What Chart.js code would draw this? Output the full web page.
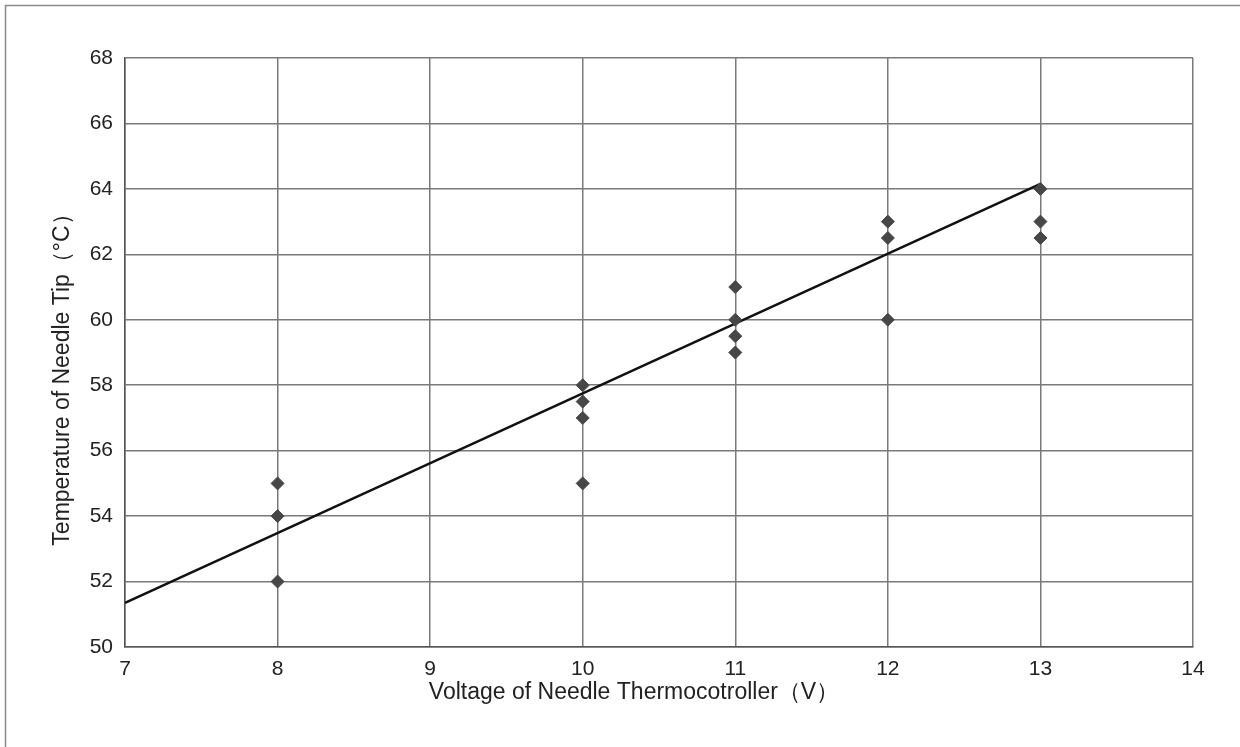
<!DOCTYPE html>
<html>
<head>
<meta charset="utf-8">
<script src="https://cdn.jsdelivr.net/npm/chart.js@4/dist/chart.umd.min.js"></script>
<style>
    html, body { margin: 0; padding: 0; background: #fff; }
    #wrap { width: 1240px; height: 747px; }
</style>
</head>
<body>
<div id="wrap"><canvas id="chart" width="1240" height="747"></canvas></div>
<script>
// measured points, grouped by voltage
var voltage = [8, 8, 8, 10, 10, 10, 10, 11, 11, 11, 11, 12, 12, 12, 13, 13, 13];
var temperature = [55, 54, 52, 58, 57.5, 57, 55, 61, 60, 59.5, 59, 63, 62.5, 60, 64, 63, 62.5];

// fitted line, read at its two ends
var fitVoltage = [7, 13];
var fitTemperature = [51.35, 64.15];

var xTitle = 'Voltage of Needle Thermocotroller（V）';
var yTitle = 'Temperature of Needle Tip（°C）';

var Chart1 = {
    s: {
        canvas: document.getElementById('chart'),
        font: '"Liberation Sans", Arial, sans-serif',
        gridColor: '#7a7a7a',
        textColor: '#222'
    },

    init: function () {
        Chart.defaults.font.family = Chart1.s.font;
        Chart1.build();
    },
    points: function (xs, ys) {
        let out = [];
        for (let i = 0; i < xs.length; i++) {
            out.push({x: xs[i], y: ys[i]});
        }
        return out;
    },
    build: function () {
        // scanned page frame
        let framePlugin = {
            id: 'frame',
            beforeDraw: function (chart) {
                let ctx = chart.ctx;
                ctx.save();
                ctx.fillStyle = '#fff';
                ctx.fillRect(0, 0, chart.width, chart.height);
                ctx.strokeStyle = '#8a8a8a';
                ctx.lineWidth = 1.5;
                ctx.beginPath();
                ctx.moveTo(5.5, chart.height);
                ctx.lineTo(5.5, 5.5);
                ctx.lineTo(chart.width, 5.5);
                ctx.stroke();
                ctx.restore();
            }
        };

        // axis titles sit a bit off-centre in the original, so draw them here
        let titlePlugin = {
            id: 'axisTitles',
            afterDraw: function (chart) {
                let ctx = chart.ctx;
                ctx.save();
                ctx.fillStyle = Chart1.s.textColor;
                ctx.font = '23px ' + Chart1.s.font;
                ctx.textAlign = 'center';
                ctx.textBaseline = 'middle';
                ctx.fillText(xTitle, 634, 693);
                ctx.translate(63, 374);
                ctx.rotate(-Math.PI / 2);
                ctx.fillText(yTitle, 0, 0);
                ctx.restore();
            }
        };

        let data = {
            datasets: [{
                type: 'line',
                label: 'fit',
                data: Chart1.points(fitVoltage, fitTemperature),
                borderColor: '#111',
                borderWidth: 2.5,
                pointRadius: 0,
                fill: false,
                order: 2
            }, {
                type: 'scatter',
                label: 'measured',
                data: Chart1.points(voltage, temperature),
                pointStyle: 'rectRot',
                pointRadius: 6.5,
                backgroundColor: '#474747',
                borderColor: '#474747',
                borderWidth: 1,
                order: 1
            }]
        };

        let options = {
            responsive: false,
            animation: false,
            layout: {
                padding: {left: 44, top: 58, right: 47, bottom: 40}
            },
            plugins: {
                legend: {display: false},
                tooltip: {enabled: false}
            },
            scales: {
                x: {
                    type: 'linear',
                    min: 7,
                    max: 14,
                    afterFit: function (scale) {
                        scale.height = 747 - 647 - 40;
                    },
                    ticks: {
                        stepSize: 1,
                        padding: 10,
                        color: Chart1.s.textColor,
                        font: {size: 21}
                    },
                    grid: {
                        color: Chart1.s.gridColor,
                        lineWidth: 1.5,
                        drawTicks: false
                    },
                    border: {color: '#555', width: 1.5}
                },
                y: {
                    type: 'linear',
                    min: 50,
                    max: 68,
                    afterFit: function (scale) {
                        scale.width = 125 - 44;
                    },
                    ticks: {
                        stepSize: 2,
                        padding: 12,
                        color: Chart1.s.textColor,
                        font: {size: 21}
                    },
                    grid: {
                        color: Chart1.s.gridColor,
                        lineWidth: 1.5,
                        drawTicks: false
                    },
                    border: {color: '#555', width: 1.5}
                }
            }
        };

        new Chart(Chart1.s.canvas, {
            data: data,
            options: options,
            plugins: [framePlugin, titlePlugin]
        });
    }
};

Chart1.init();
</script>
</body>
</html>
